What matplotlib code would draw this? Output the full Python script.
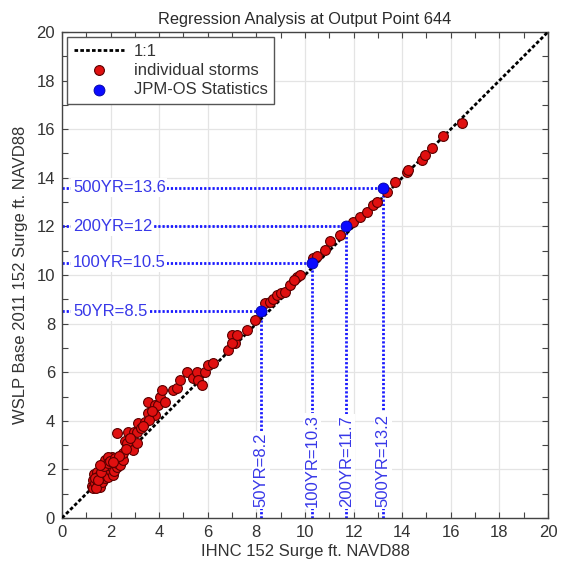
import matplotlib
matplotlib.use("Agg")
import matplotlib.pyplot as plt
from matplotlib.ticker import MultipleLocator

plt.rcParams['font.family'] = ['Liberation Sans', 'DejaVu Sans']

# individual storms (IHNC, WSLP)
storm_x = [1.22, 1.29, 1.29, 1.35, 1.30, 1.43, 1.45, 1.50, 1.56, 1.55, 1.60, 1.70, 1.65, 1.70,
           1.77, 1.75, 1.80, 1.84, 1.85, 1.90, 1.95, 2.04, 2.00, 2.05, 2.11, 2.15, 2.25, 2.25,
           2.30, 2.39, 2.40, 2.45, 2.50, 2.52, 1.40, 1.90, 2.25, 2.60, 2.66, 2.73, 2.93, 2.95,
           3.07, 3.09, 3.14, 3.42, 3.55, 3.55, 3.83, 3.83, 3.96, 4.03, 4.10, 4.24, 3.60, 3.70,
           4.58, 4.72, 4.86, 5.13, 5.40, 5.54, 5.61, 5.75, 5.88, 6.02, 6.23, 6.84, 6.98, 7.12,
           7.00, 7.19, 7.60, 7.94, 8.35, 8.56, 8.70, 8.83, 9.00, 9.18, 9.38, 9.66, 9.79, 9.55,
           10.34, 10.50, 10.82, 11.03, 11.44, 11.99, 12.26, 12.54, 12.81, 12.95, 13.36, 13.70,
           14.18, 14.25, 14.80, 14.94, 15.21, 15.69, 16.45,
           1.35, 1.48, 1.62, 1.72, 1.88, 1.98, 2.18, 2.35, 1.58, 2.08, 2.62, 2.80, 3.25, 3.35]
storm_y = [1.30, 1.22, 1.56, 1.45, 1.80, 1.91, 1.70, 1.40, 1.29, 1.60, 1.75, 1.56, 1.50, 1.85,
           2.39, 1.65, 2.10, 2.05, 1.95, 1.70, 2.20, 2.52, 1.95, 2.10, 1.77, 1.95, 2.11, 2.25,
           2.40, 2.32, 2.20, 2.60, 2.40, 2.66, 1.25, 2.50, 3.48, 3.15, 3.10, 3.55, 2.80, 3.55,
           3.07, 3.55, 3.90, 3.96, 4.31, 4.79, 4.24, 4.65, 4.65, 4.99, 5.27, 4.79, 4.05, 4.40,
           5.27, 5.34, 5.68, 6.02, 5.75, 6.02, 5.68, 5.47, 6.02, 6.30, 6.37, 6.91, 7.53, 7.19,
           7.20, 7.53, 7.74, 8.15, 8.84, 8.90, 9.00, 9.18, 9.25, 9.32, 9.59, 9.93, 10.00, 9.80,
           10.69, 10.80, 11.03, 11.41, 11.65, 12.19, 12.40, 12.61, 12.88, 13.02, 13.43, 13.84,
           14.25, 14.30, 14.73, 14.94, 15.21, 15.72, 16.27,
           1.65, 1.58, 1.88, 2.15, 2.28, 2.35, 2.45, 2.55, 2.20, 2.30, 2.85, 3.30, 3.70, 3.80]

# JPM-OS statistics
rp_labels = ['50YR', '100YR', '200YR', '500YR']
jpm_x = [8.2, 10.3, 11.7, 13.2]
jpm_y = [8.5, 10.5, 12.0, 13.6]

one_to_one = [0, 20]

fig = plt.figure(figsize=(5.62, 5.69), dpi=100)
ax = fig.add_axes([0.1103, 0.0896, 0.8647, 0.8542])

blue = '#1a1aff'
txt_blue = '#3838e8'
dot = (0, (0.8, 0.7))

ax.grid(True, color='#e4e4e4', lw=0.9, zorder=0)
ax.set_axisbelow(True)

ax.plot(one_to_one, one_to_one, color='black', lw=2.0, linestyle=(0, (1.3, 0.8)),
        zorder=3, label='1:1')

for lab, xv, yv in zip(rp_labels, jpm_x, jpm_y):
    ax.plot([0, xv], [yv, yv], color=blue, lw=2.0, linestyle=dot, zorder=2)
    ax.plot([xv, xv], [0, yv], color=blue, lw=2.0, linestyle=dot, zorder=2)
    ax.text(0.45, yv, f'{lab}={yv:g}', color=txt_blue, fontsize=12, ha='left', va='center',
            zorder=2.5, bbox=dict(facecolor='white', edgecolor='none', pad=1.2))
    ax.text(xv, 0.45, f'{lab}={xv:g}', color=txt_blue, fontsize=12, ha='center', va='bottom',
            rotation=90, zorder=2.5, bbox=dict(facecolor='white', edgecolor='none', pad=1.2))

ax.scatter(storm_x, storm_y, s=50, c='#e01010', edgecolors='#5a0000', linewidths=0.8,
           zorder=4, label='individual storms')
ax.scatter(jpm_x, jpm_y, s=62, c='#0a0aff', edgecolors='#0000a0', linewidths=0.6,
           zorder=5, label='JPM-OS Statistics')

ax.set_xlim(0, 20)
ax.set_ylim(0, 20)
ax.xaxis.set_major_locator(MultipleLocator(2))
ax.yaxis.set_major_locator(MultipleLocator(2))
ax.xaxis.set_minor_locator(MultipleLocator(1))
ax.yaxis.set_minor_locator(MultipleLocator(1))
ax.tick_params(which='both', direction='in', top=True, right=True, length=4,
               width=0.8, color='#444444', labelsize=12, labelcolor='#333333', pad=5)
for sp in ax.spines.values():
    sp.set_color('#444444')
    sp.set_linewidth(1.0)

ax.set_title('Regression Analysis at Output Point 644', fontsize=11.8, color='#2a2a2a', pad=6)
ax.set_xlabel('IHNC 152 Surge ft. NAVD88', fontsize=12, color='#333333', labelpad=3)
ax.set_ylabel('WSLP Base 2011 152 Surge ft. NAVD88', fontsize=12, color='#333333', labelpad=6)

leg = ax.legend(loc='upper left', fontsize=12, frameon=True, fancybox=False,
                edgecolor='#555555', framealpha=1, borderpad=0.4, labelspacing=0.25,
                handlelength=3.0, handletextpad=0.6, borderaxespad=0.3)
leg.get_frame().set_linewidth(1.0)
for t in leg.get_texts():
    t.set_color('#333333')

fig.savefig('out.png', dpi=100)
